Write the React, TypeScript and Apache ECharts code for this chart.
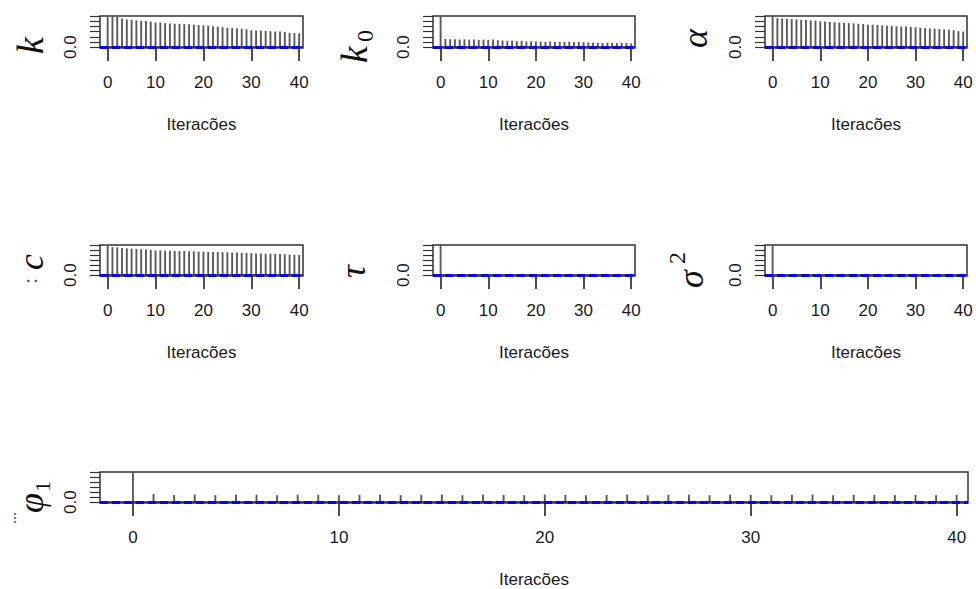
import React, { useEffect, useRef } from "react";
import * as echarts from "echarts";

const LAGS = [0, 1, 2, 3, 4, 5, 6, 7, 8, 9, 10, 11, 12, 13, 14, 15, 16, 17, 18, 19, 20, 21, 22, 23, 24, 25, 26, 27, 28, 29, 30, 31, 32, 33, 34, 35, 36, 37, 38, 39, 40];
const X_TICKS = [0, 10, 20, 30, 40];
const Y_TICKS = [0, 0.17, 0.33, 0.5, 0.67, 0.83, 1.0];
const Y_LABEL_VALUES = [0];
const Y_LABEL_TEXT = "0.0";
const X_TITLE = "Iteracões";
const CI = 0.02;

const acfK = [1.0, 0.99, 0.97, 0.92, 0.89, 0.88, 0.86, 0.85, 0.84, 0.82, 0.79, 0.79, 0.77, 0.76, 0.75, 0.75, 0.74, 0.73, 0.72, 0.71, 0.7, 0.69, 0.67, 0.66, 0.64, 0.62, 0.61, 0.6, 0.59, 0.57, 0.54, 0.53, 0.53, 0.52, 0.51, 0.5, 0.5, 0.49, 0.46, 0.45, 0.44];
const acfK0 = [1.0, 0.26, 0.25, 0.25, 0.24, 0.25, 0.24, 0.24, 0.23, 0.24, 0.23, 0.24, 0.22, 0.21, 0.2, 0.2, 0.19, 0.2, 0.18, 0.19, 0.18, 0.18, 0.17, 0.18, 0.17, 0.17, 0.16, 0.17, 0.16, 0.17, 0.16, 0.15, 0.14, 0.14, 0.13, 0.14, 0.13, 0.13, 0.14, 0.13, 0.12];
const acfAlpha = [1.0, 0.93, 0.92, 0.91, 0.9, 0.89, 0.88, 0.87, 0.86, 0.85, 0.83, 0.82, 0.81, 0.8, 0.79, 0.78, 0.77, 0.76, 0.75, 0.74, 0.72, 0.72, 0.71, 0.7, 0.69, 0.68, 0.67, 0.66, 0.66, 0.65, 0.64, 0.62, 0.61, 0.6, 0.59, 0.58, 0.57, 0.56, 0.54, 0.51, 0.5];
const acfC = [1.0, 0.93, 0.92, 0.9, 0.89, 0.88, 0.87, 0.86, 0.85, 0.84, 0.82, 0.82, 0.81, 0.81, 0.8, 0.8, 0.8, 0.79, 0.79, 0.78, 0.78, 0.77, 0.77, 0.77, 0.76, 0.76, 0.75, 0.75, 0.74, 0.74, 0.73, 0.72, 0.72, 0.71, 0.71, 0.7, 0.7, 0.69, 0.68, 0.67, 0.67];
const acfTau = [1.0, 0.004, -0.003, 0.002, -0.004, 0.003, 0.001, -0.002, 0.003, -0.001, 0.002, -0.003, 0.001, 0.002, -0.002, 0.003, -0.001, 0.002, -0.003, 0.001, 0.002, -0.002, 0.001, 0.003, -0.001, 0.002, -0.002, 0.001, 0.002, -0.003, 0.001, 0.002, -0.001, 0.003, -0.002, 0.001, 0.002, -0.001, 0.001, -0.002, 0.002];
const acfSigma2 = [1.0, 0.003, -0.002, 0.004, -0.001, 0.002, -0.003, 0.001, 0.002, -0.002, 0.003, -0.001, 0.002, -0.003, 0.001, 0.002, -0.001, 0.003, -0.002, 0.001, 0.002, -0.003, 0.001, 0.002, -0.001, 0.003, -0.002, 0.001, 0.002, -0.001, 0.003, -0.002, 0.001, 0.002, -0.003, 0.001, 0.002, -0.001, 0.002, -0.002, 0.001];
const acfPhi1 = [1.0, 0.27, 0.24, 0.25, 0.23, 0.25, 0.24, 0.23, 0.25, 0.24, 0.23, 0.24, 0.25, 0.23, 0.24, 0.25, 0.23, 0.24, 0.24, 0.23, 0.25, 0.24, 0.23, 0.24, 0.25, 0.23, 0.24, 0.24, 0.23, 0.25, 0.24, 0.23, 0.24, 0.25, 0.23, 0.24, 0.24, 0.23, 0.24, 0.23, 0.24];

type Part = { text: string; size: number; dx: number; shift: number; italic: boolean };

const panels = [
  { data: acfK, left: 100, top: 16, width: 203, height: 32, xmin: -1.6, xmax: 40.8 },
  { data: acfK0, left: 433, top: 16, width: 202, height: 32, xmin: -1.6, xmax: 40.8 },
  { data: acfAlpha, left: 765, top: 16, width: 202, height: 32, xmin: -1.6, xmax: 40.8 },
  { data: acfC, left: 100, top: 245, width: 203, height: 31, xmin: -1.6, xmax: 40.8 },
  { data: acfTau, left: 433, top: 245, width: 202, height: 31, xmin: -1.6, xmax: 40.8 },
  { data: acfSigma2, left: 765, top: 245, width: 202, height: 31, xmin: -1.6, xmax: 40.8 },
  { data: acfPhi1, left: 100, top: 472, width: 868, height: 31, xmin: -1.6, xmax: 40.55 },
];

const labels: { x: number; y: number; parts: Part[] }[] = [
  { x: 43, y: 54, parts: [{ text: "k", size: 38, dx: 0, shift: 0, italic: true }] },
  { x: 367, y: 63, parts: [{ text: "k", size: 38, dx: 0, shift: 0, italic: true }, { text: "0", size: 24, dx: 21, shift: 6, italic: false }] },
  { x: 707, y: 48, parts: [{ text: "α", size: 36, dx: 0, shift: 0, italic: true }] },
  { x: 43, y: 270, parts: [{ text: "c", size: 36, dx: 0, shift: 0, italic: true }] },
  { x: 365, y: 278, parts: [{ text: "τ", size: 36, dx: 0, shift: 0, italic: true }] },
  { x: 703, y: 288, parts: [{ text: "σ", size: 36, dx: 0, shift: 0, italic: true }, { text: "2", size: 24, dx: 24, shift: -18, italic: false }] },
  { x: 43, y: 513, parts: [{ text: "φ", size: 36, dx: 0, shift: 0, italic: true }, { text: "1", size: 22, dx: 21, shift: 7, italic: false }] },
];

const FONT_SANS = '"Liberation Sans", Arial, sans-serif';

function mathLabel(l: { x: number; y: number; parts: Part[] }) {
  return {
    type: "group",
    x: l.x,
    y: l.y,
    rotation: Math.PI / 2,
    silent: true,
    children: l.parts.map((p) => ({
      type: "text",
      x: p.dx,
      y: p.shift - 0.3375 * p.size,
      style: {
        text: p.text,
        font: `${p.italic ? "italic " : ""}${p.size}px "Liberation Serif", "DejaVu Serif", serif`,
        fill: "#111",
        align: "left",
        verticalAlign: "middle",
      },
    })),
  };
}

function dots(x: number, y: number, text: string, size: number) {
  return {
    type: "group",
    x,
    y,
    rotation: Math.PI / 2,
    silent: true,
    children: [
      {
        type: "text",
        x: 0,
        y: -0.3375 * size,
        style: { text, font: `${size}px "Liberation Serif", serif`, fill: "#555", align: "left", verticalAlign: "middle" },
      },
    ],
  };
}

export default function App() {
  const ref = useRef<HTMLDivElement>(null);
  useEffect(() => {
    if (!ref.current) return;
    const chart = echarts.init(ref.current, null, { renderer: "svg" });
    const option: any = {
      animation: false,
      backgroundColor: "#ffffff",
      grid: panels.map((p) => ({
        left: p.left,
        top: p.top,
        width: p.width,
        height: p.height,
        show: true,
        borderColor: "#333",
        borderWidth: 1.5,
        backgroundColor: "transparent",
      })),
      xAxis: panels.map((p, i) => ({
        type: "value",
        gridIndex: i,
        min: p.xmin,
        max: p.xmax,
        axisLine: { show: false, onZero: false },
        splitLine: { show: false },
        axisTick: { show: true, length: 13, customValues: X_TICKS, lineStyle: { color: "#222", width: 1.6 } },
        axisLabel: { show: true, customValues: X_TICKS, fontSize: 17, color: "#1a1a1a", margin: 26, fontFamily: FONT_SANS },
        name: X_TITLE,
        nameLocation: "middle",
        nameGap: 68,
        nameTextStyle: { fontSize: 17, color: "#1a1a1a", fontFamily: FONT_SANS },
      })),
      yAxis: panels.map((p, i) => ({
        type: "value",
        gridIndex: i,
        min: -0.03,
        max: 1.0,
        axisLine: { show: false, onZero: false },
        splitLine: { show: false },
        axisTick: { show: true, length: 10, customValues: Y_TICKS, lineStyle: { color: "#333", width: 1.2 } },
        axisLabel: {
          show: true,
          customValues: Y_LABEL_VALUES,
          formatter: () => Y_LABEL_TEXT,
          rotate: 90,
          fontSize: 17,
          color: "#1a1a1a",
          margin: 21,
          fontFamily: FONT_SANS,
        },
      })),
      series: panels.map((p, i) => ({
        type: "bar",
        xAxisIndex: i,
        yAxisIndex: i,
        silent: true,
        barWidth: 1.9,
        itemStyle: { color: "#5a5a5a" },
        data: p.data.map((v, j) => [LAGS[j], v]),
        markLine: {
          silent: true,
          symbol: ["none", "none"],
          label: { show: false },
          data: [
            { yAxis: 0, lineStyle: { color: "#222", type: "solid", width: 1.5 } },
            { yAxis: CI, lineStyle: { color: "#0000ff", type: [8, 4], width: 2.2 } },
            { yAxis: -CI, lineStyle: { color: "#0000ff", type: [8, 4], width: 2.2 } },
          ],
        },
      })),
      graphic: [
        ...labels.map(mathLabel),
        dots(37, 284, ":", 22),
        dots(16, 524, "...", 16),
      ],
    };
    chart.setOption(option);
    return () => chart.dispose();
  }, []);
  return (
    <div
      ref={ref}
      style={{ position: "absolute", left: 0, top: 0, width: 976, height: 589, background: "#fff" }}
    />
  );
}
